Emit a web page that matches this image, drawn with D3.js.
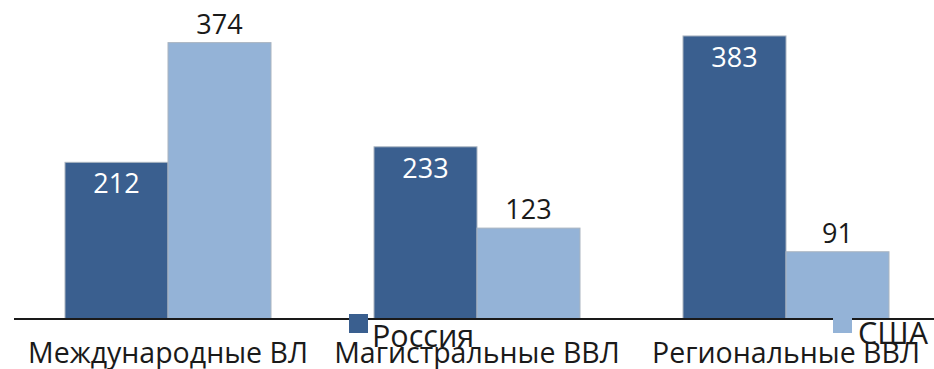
<!DOCTYPE html>
<html>
<head>
<meta charset="utf-8">
<script src="https://cdn.jsdelivr.net/npm/d3@7"></script>
<style>
  body { margin: 0; background: #fff; }
  svg { display: block; font-family: "Open Sans", sans-serif; }
</style>
</head>
<body>
<div id="chart"></div>
<script>
const categories = ["Международные ВЛ", "Магистральные ВВЛ", "Региональные ВВЛ"];
const seriesNames = ["Россия", "США"];
const russia = [212, 233, 383];
const usa = [374, 123, 91];

const colors = { "Россия": "#3a5f8f", "США": "#94b3d7" };
const width = 934, height = 369;
const baseline = 319;

const svg = d3.select("#chart").append("svg")
  .attr("width", width).attr("height", height);

const x = d3.scaleBand().domain(categories).range([13.5, 940.5])
  .paddingInner(1 / 3).paddingOuter(1 / 6);
const xs = d3.scaleBand().domain(seriesNames).range([0, x.bandwidth()]);
const y = d3.scaleLinear().domain([0, 400]).range([baseline, baseline - 400 * 0.739]);

const rows = categories.map((c, i) => ({ cat: c, values: [
  { name: "Россия", value: russia[i] },
  { name: "США", value: usa[i] }
]}));

const groups = svg.selectAll("g.group").data(rows).join("g")
  .attr("class", "group")
  .attr("transform", (d) => `translate(${x(d.cat)},0)`);

groups.selectAll("rect").data((d) => d.values).join("rect")
  .attr("x", (d) => xs(d.name))
  .attr("y", (d) => y(d.value))
  .attr("width", xs.bandwidth())
  .attr("height", (d) => baseline - y(d.value))
  .attr("fill", (d) => colors[d.name])
  .attr("stroke", "#a9b4c0")
  .attr("stroke-width", 1);

groups.selectAll("text.val").data((d) => d.values).join("text")
  .attr("class", "val")
  .attr("x", (d) => xs(d.name) + xs.bandwidth() / 2)
  .attr("y", (d) => d.name === "Россия" ? y(d.value) + 31 : y(d.value) - 9)
  .attr("text-anchor", "middle")
  .attr("font-size", 27)
  .attr("fill", (d) => d.name === "Россия" ? "#fff" : "#1a1a1a")
  .text((d) => d.value);

// axis line
svg.append("line")
  .attr("x1", 14).attr("x2", width)
  .attr("y1", baseline).attr("y2", baseline)
  .attr("stroke", "#1a1a1a").attr("stroke-width", 2);

const xAxis = d3.axisBottom(x).tickSize(0).tickPadding(0);
const axisG = svg.append("g").attr("transform", `translate(0,${baseline})`).call(xAxis);
axisG.select(".domain").remove();
axisG.selectAll("text")
  .attr("dy", null)
  .attr("y", 44)
  .attr("font-size", 28.5)
  .attr("font-family", "\"Open Sans\", sans-serif")
  .attr("fill", "#1a1a1a");

// legend overlapping the axis labels, as in the original
const legendItems = [
  { name: "Россия", sx: 349, tx: 372, ty: 347 },
  { name: "США", sx: 833, tx: 858, ty: 344 }
];
const legend = svg.selectAll("g.legend").data(legendItems).join("g").attr("class", "legend");
legend.append("rect")
  .attr("x", (d) => d.sx).attr("y", 314)
  .attr("width", 19).attr("height", 19)
  .attr("fill", (d) => colors[d.name]);
legend.append("text")
  .attr("x", (d) => d.tx).attr("y", (d) => d.ty)
  .attr("font-size", 30.5)
  .attr("fill", "#1a1a1a")
  .text((d) => d.name);
</script>
</body>
</html>
